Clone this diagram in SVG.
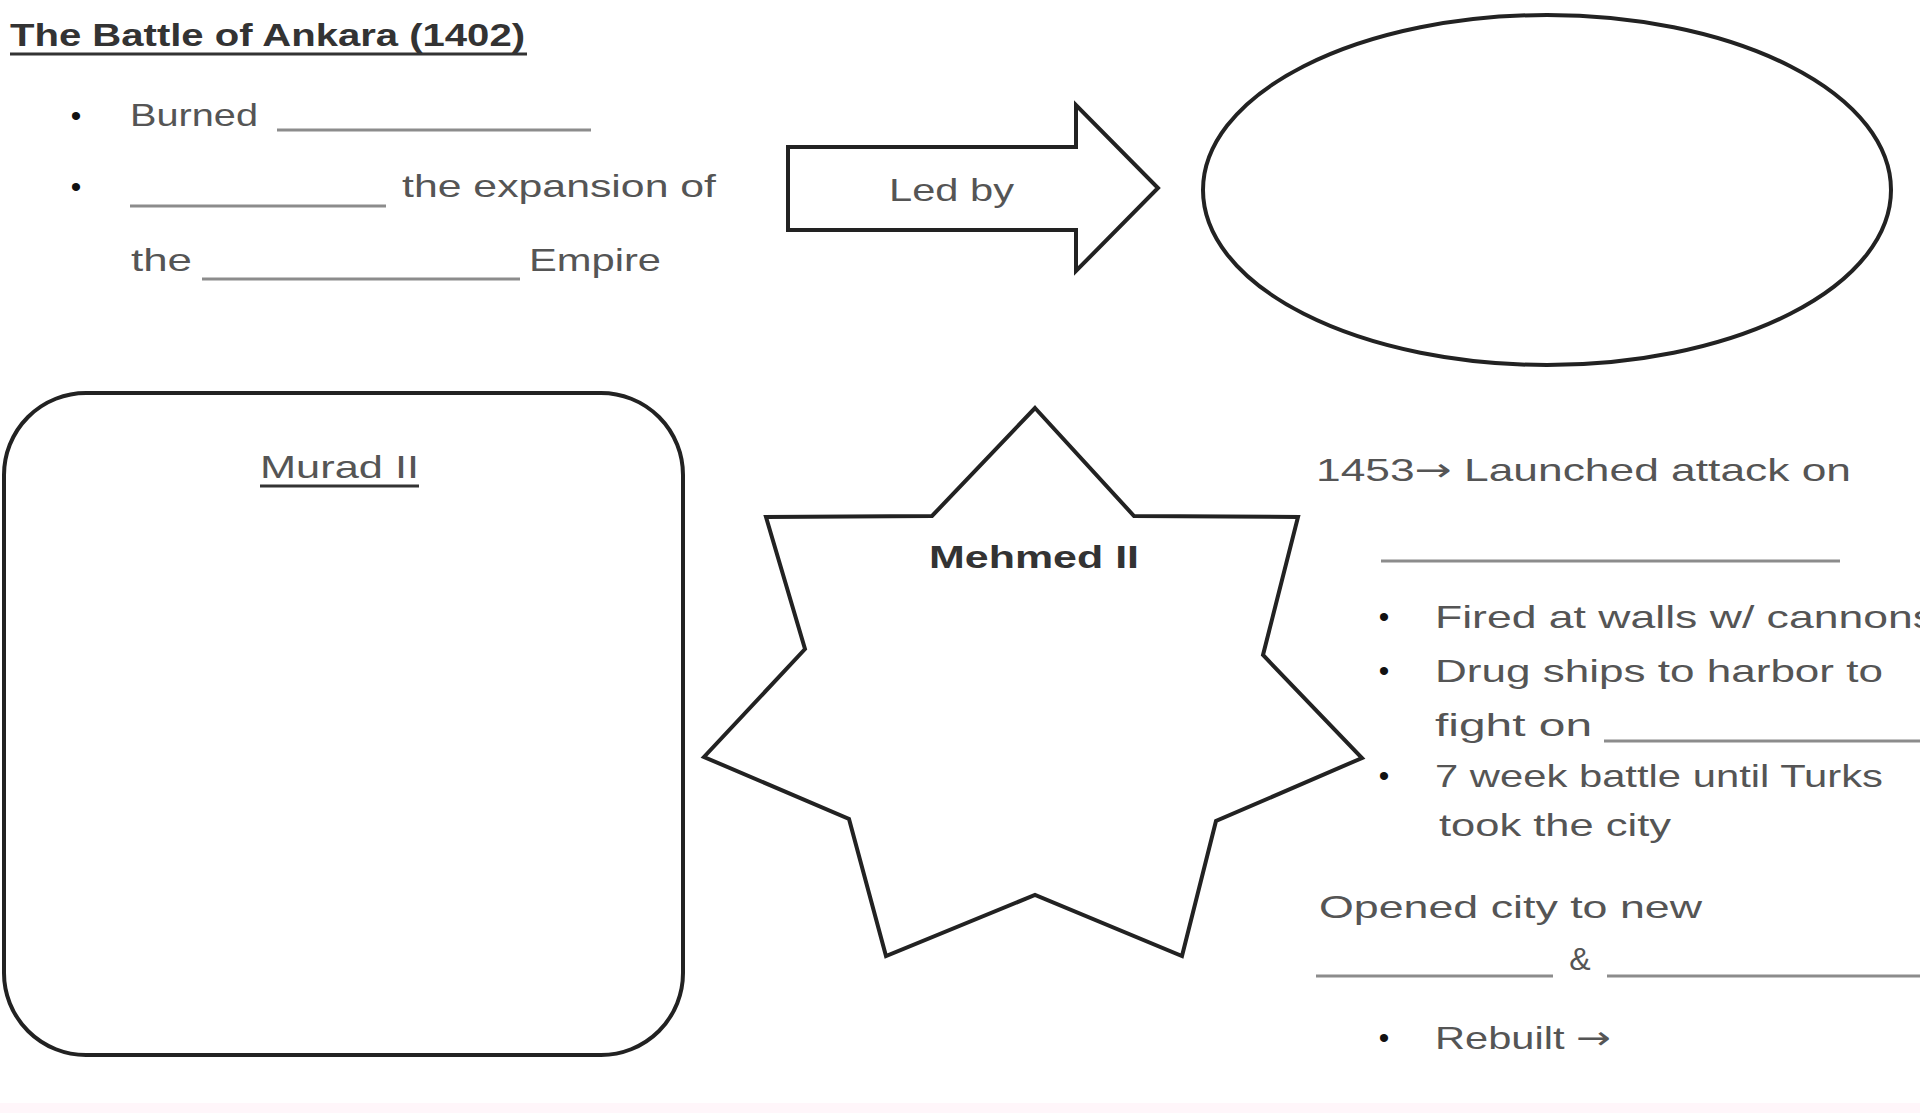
<svg xmlns="http://www.w3.org/2000/svg" width="1920" height="1113" viewBox="0 0 1920 1113">
<style>
.t{font-family:"Liberation Sans","DejaVu Sans",sans-serif;font-size:32px;fill:#555}
.b{font-weight:bold;fill:#333}
.ar{font-family:"DejaVu Sans",sans-serif}
.bul{font-family:"Liberation Sans","DejaVu Sans",sans-serif;font-size:30px;fill:#111;text-anchor:middle}
.blank{stroke:#8c8c8c;stroke-width:3}
.shape{fill:#fff;stroke:#222;stroke-width:4}
.ul{stroke:#333;stroke-width:3}
</style>
<rect x="0" y="0" width="1920" height="1113" fill="#fff"/>
<rect x="0" y="1103" width="1920" height="10" fill="#fff6fa"/>
<g id="ankara">
<text class="t b" x="10" y="46" textLength="515" lengthAdjust="spacingAndGlyphs">The Battle of Ankara (1402)</text>
<line class="ul" x1="10" y1="54" x2="527" y2="54"/>
<text class="bul" x="76" y="126">•</text>
<text class="t" x="130" y="126" textLength="128" lengthAdjust="spacingAndGlyphs">Burned</text>
<line class="blank" x1="277" y1="130" x2="591" y2="130"/>
<text class="bul" x="76" y="197">•</text>
<line class="blank" x1="130" y1="206" x2="386" y2="206"/>
<text class="t" x="402" y="197" textLength="314" lengthAdjust="spacingAndGlyphs">the expansion of</text>
<text class="t" x="131" y="271" textLength="61" lengthAdjust="spacingAndGlyphs">the</text>
<line class="blank" x1="202" y1="279" x2="520" y2="279"/>
<text class="t" x="529" y="271" textLength="132" lengthAdjust="spacingAndGlyphs">Empire</text>
</g>
<g id="connectors">
<g id="led-by-arrow">
<polygon class="shape" points="788,147 1076,147 1076,105 1158,188 1076,271 1076,230 788,230"/>
<text class="t" x="889" y="201" textLength="125" lengthAdjust="spacingAndGlyphs">Led by</text>
</g>
</g>
<g id="leader-oval">
<ellipse class="shape" cx="1547" cy="190" rx="344" ry="175"/>
</g>
<g id="murad">
<rect class="shape" x="4" y="393" width="679" height="662" rx="82" ry="82"/>
<text class="t" x="260" y="478" textLength="159" lengthAdjust="spacingAndGlyphs">Murad II</text>
<line class="ul" x1="260" y1="486" x2="419" y2="486"/>
</g>
<g id="mehmed">
<polygon class="shape" points="1035,408 1134,516 1298,517 1263,655 1362,758 1216,821 1182,956 1035,895 886,956 849,819 704,757 805,649 766,517 932,516"/>
<text class="t b" x="929" y="568" textLength="210" lengthAdjust="spacingAndGlyphs">Mehmed II</text>
</g>
<g id="constantinople">
<text class="t" x="1316" y="481" textLength="535" lengthAdjust="spacingAndGlyphs">1453<tspan class="ar">→</tspan> Launched attack on</text>
<line class="blank" x1="1381" y1="561" x2="1840" y2="561"/>
<text class="bul" x="1384" y="627">•</text>
<text class="t" x="1435" y="628" textLength="500" lengthAdjust="spacingAndGlyphs">Fired at walls w/ cannons</text>
<text class="bul" x="1384" y="681">•</text>
<text class="t" x="1435" y="682" textLength="448" lengthAdjust="spacingAndGlyphs">Drug ships to harbor to</text>
<text class="t" x="1435" y="736" textLength="157" lengthAdjust="spacingAndGlyphs">fight on</text>
<line class="blank" x1="1604" y1="741" x2="1920" y2="741"/>
<text class="bul" x="1384" y="786">•</text>
<text class="t" x="1435" y="787" textLength="448" lengthAdjust="spacingAndGlyphs">7 week battle until Turks</text>
<text class="t" x="1439" y="836" textLength="232" lengthAdjust="spacingAndGlyphs">took the city</text>
<text class="t" x="1319" y="918" textLength="383" lengthAdjust="spacingAndGlyphs">Opened city to new</text>
<line class="blank" x1="1316" y1="976" x2="1553" y2="976"/>
<text class="t" x="1580" y="970" text-anchor="middle">&amp;</text>
<line class="blank" x1="1607" y1="976" x2="1920" y2="976"/>
<text class="bul" x="1384" y="1048">•</text>
<text class="t" x="1435" y="1049" textLength="176" lengthAdjust="spacingAndGlyphs">Rebuilt <tspan class="ar">→</tspan></text>
</g>
</svg>
